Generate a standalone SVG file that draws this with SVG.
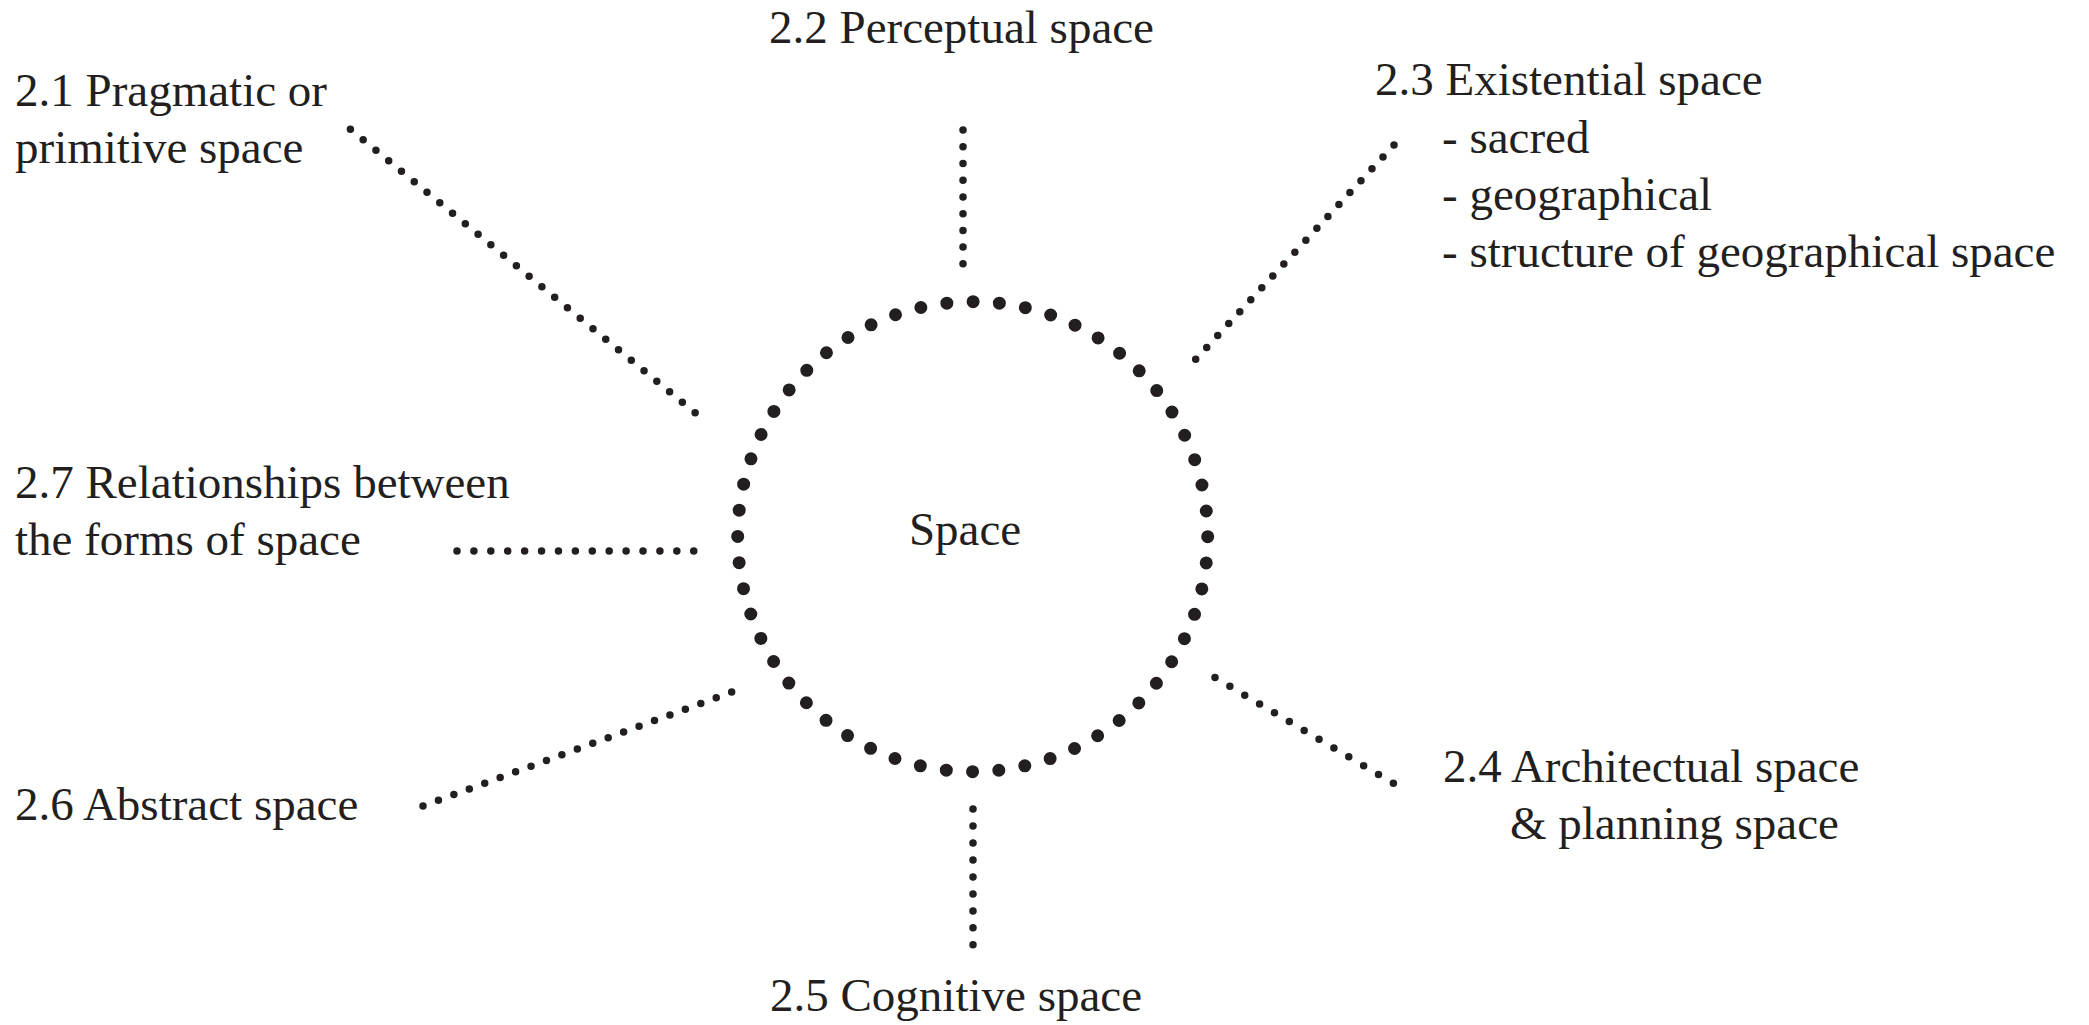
<svg xmlns="http://www.w3.org/2000/svg" width="2089" height="1025" viewBox="0 0 2089 1025">
<style>
.t{font-family:"Liberation Serif","Times New Roman",serif;font-size:47px;fill:#231f20}
.c{fill:none;stroke:#231f20;stroke-width:7.5;stroke-linecap:round}
.ring{fill:none;stroke:#231f20;stroke-width:13;stroke-linecap:round}
</style>
<rect width="2089" height="1025" fill="#ffffff"/>
<g id="center">
<circle class="ring" cx="972.7" cy="536.7" r="235" stroke-dasharray="0 26.366"/>
<text class="t" x="965" y="545" text-anchor="middle">Space</text>
</g>
<g id="connectors">
<line class="c" x1="350.4" y1="129.2" x2="695.5" y2="413" stroke-dasharray="0 16.53"/>
<line class="c" x1="963" y1="130" x2="963" y2="264" stroke-dasharray="0 16.73"/>
<line class="c" x1="1394" y1="145" x2="1195.5" y2="359.5" stroke-dasharray="0 16.22"/>
<line class="c" x1="1215" y1="677.5" x2="1393.6" y2="783.4" stroke-dasharray="0 17.28"/>
<line class="c" x1="973" y1="809" x2="973" y2="945" stroke-dasharray="0 16.98"/>
<line class="c" x1="423" y1="806" x2="732" y2="692" stroke-dasharray="0 16.45"/>
<line class="c" x1="457" y1="551" x2="694" y2="551" stroke-dasharray="0 16.91"/>
</g>
<g id="n21"><text class="t" x="15" y="106">2.1 Pragmatic or</text><text class="t" x="15" y="163">primitive space</text></g>
<g id="n22"><text class="t" x="769" y="43">2.2 Perceptual space</text></g>
<g id="n23"><text class="t" x="1375" y="95">2.3 Existential space</text><text class="t" x="1442" y="153">- sacred</text><text class="t" x="1442" y="210">- geographical</text><text class="t" x="1442" y="267">- structure of geographical space</text></g>
<g id="n24"><text class="t" x="1443" y="782">2.4 Architectual space</text><text class="t" x="1510" y="839">&amp; planning space</text></g>
<g id="n25"><text class="t" x="770" y="1011">2.5 Cognitive space</text></g>
<g id="n26"><text class="t" x="15" y="820">2.6 Abstract space</text></g>
<g id="n27"><text class="t" x="15" y="498">2.7 Relationships between</text><text class="t" x="15" y="555">the forms of space</text></g>
</svg>
